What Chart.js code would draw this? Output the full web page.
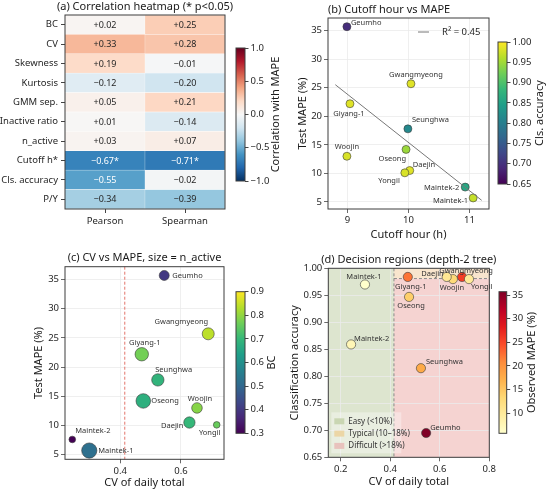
<!DOCTYPE html>
<html lang="en">
<head>
<meta charset="UTF-8">
<title>MAPE drivers</title>
<script src="https://cdn.jsdelivr.net/npm/chart.js"></script>
<style>
  html, body { margin: 0; padding: 0; background: #fff; }
  #wrap { position: relative; width: 550px; height: 493px; overflow: hidden; }
  #wrap canvas { position: absolute; }
</style>
</head>
<body>
<div id="wrap">
  <canvas id="heat" width="235" height="245" style="left:0;top:0"></canvas>
  <canvas id="cbA" width="60" height="245" style="left:228px;top:0"></canvas>
  <canvas id="cutoff" width="225" height="245" style="left:275px;top:0"></canvas>
  <canvas id="cbB" width="60" height="245" style="left:490px;top:0"></canvas>
  <canvas id="cvMape" width="235" height="248" style="left:0;top:245px"></canvas>
  <canvas id="cbC" width="60" height="248" style="left:228px;top:245px"></canvas>
  <canvas id="regions" width="225" height="248" style="left:275px;top:245px"></canvas>
  <canvas id="cbD" width="60" height="248" style="left:490px;top:245px"></canvas>
</div>

<script>
// --- data ---
const corrFeatures = ['BC', 'CV', 'Skewness', 'Kurtosis', 'GMM sep.', 'Inactive ratio', 'n_active', 'Cutoff h*', 'Cls. accuracy', 'P/Y'];
const corrMethods = ['Pearson', 'Spearman'];
const pearsonR = [0.02, 0.33, 0.19, -0.12, 0.05, 0.01, 0.03, -0.67, -0.55, -0.34];
const spearmanR = [0.25, 0.28, -0.01, -0.20, 0.21, -0.14, 0.07, -0.71, -0.02, -0.39];
const pearsonSig = [0, 0, 0, 0, 0, 0, 0, 1, 0, 0];
const spearmanSig = [0, 0, 0, 0, 0, 0, 0, 1, 0, 0];

const sites = ['Geumho', 'Gwangmyeong', 'Giyang-1', 'Seunghwa', 'Woojin', 'Oseong', 'Daejin', 'Yongil', 'Maintek-2', 'Maintek-1'];
const testMape = [35.7, 25.7, 22.2, 17.8, 13.0, 14.2, 10.5, 10.1, 7.6, 5.7];
const cutoffHour = [9, 10, 9, 10, 9, 10, 10, 10, 11, 11];
const cutoffJitter = [-0.01, 0.04, 0.04, -0.01, -0.01, -0.04, 0.02, -0.06, -0.07, 0.06];
const clsAccuracy = [0.695, 0.984, 0.984, 0.815, 0.980, 0.947, 0.984, 0.980, 0.859, 0.970];
const cvDaily = [0.545, 0.690, 0.471, 0.524, 0.653, 0.476, 0.628, 0.718, 0.242, 0.298];
const bimodality = [0.40, 0.84, 0.77, 0.69, 0.79, 0.68, 0.70, 0.76, 0.30, 0.52];
const nActive = [25, 36, 45, 38, 28, 53, 32, 11, 11, 58];

// depth-2 tree splits
const cvSplit = 0.415;
const accSplit = 0.981;
const regionNames = ['Easy (<10%)', 'Typical (10\u201318%)', 'Difficult (>18%)'];

// tick labels
const mapeTicks = [5, 10, 15, 20, 25, 30, 35];
const cutoffTicks = [9, 10, 11];
const cvTicksC = [0.4, 0.6];
const cvTicksD = [0.2, 0.4, 0.6, 0.8];
const accTicks = [0.65, 0.70, 0.75, 0.80, 0.85, 0.90, 0.95, 1.00];
const corrCbTicks = [-1, -0.5, 0, 0.5, 1];
const accCbTicks = [0.65, 0.70, 0.75, 0.80, 0.85, 0.90, 0.95, 1.00];
const bcCbTicks = [0.3, 0.4, 0.5, 0.6, 0.7, 0.8, 0.9];
const mapeCbTicks = [10, 15, 20, 25, 30, 35];

// --- colour maps ---
const RDBU_R = ['#053061', '#2166ac', '#4393c3', '#92c5de', '#d1e5f0', '#f7f7f7', '#fddbc7', '#f4a582', '#d6604d', '#b2182b', '#67001f'];
const VIRIDIS = ['#440154', '#482878', '#3e4989', '#31688e', '#26828e', '#1f9e89', '#35b779', '#6ece58', '#b5de2b', '#fde725'];
const YLORRD = ['#ffffcc', '#ffeda0', '#fed976', '#feb24c', '#fd8d3c', '#fc4e2a', '#e31a1c', '#bd0026', '#800026'];

function hexRgb(h) { return [1, 3, 5].map(i => parseInt(h.substr(i, 2), 16)); }
function cmap(stops, v, lo, hi) {
  let t = Math.min(1, Math.max(0, (v - lo) / (hi - lo)));
  const n = stops.length - 1;
  const i = Math.min(Math.floor(t * n), n - 1);
  const f = t * n - i;
  const a = hexRgb(stops[i]), b = hexRgb(stops[i + 1]);
  return 'rgb(' + a.map((c, k) => Math.round(c + (b[k] - c) * f)).join(',') + ')';
}

const FONT = '"Noto Sans", "DejaVu Sans", sans-serif';
const tickFont = { family: FONT, size: 9.5 };
const titleFont = { family: FONT, size: 11 };
const TXT = '#262626';
const GRID = '#ebebeb';
const minus = v => (v < 0 ? '\u2212' : '') + Math.abs(v);

// --- small plugins ---
const framePlugin = {
  id: 'frame',
  afterDatasetsDraw(chart) {
    const { ctx, chartArea: a } = chart;
    ctx.save();
    ctx.strokeStyle = '#3d3d3d';
    ctx.lineWidth = 1;
    ctx.strokeRect(a.left, a.top, a.right - a.left, a.bottom - a.top);
    ctx.restore();
  }
};

function titlePlugin(text, align) {
  return {
    id: 'panelTitle',
    afterDraw(chart) {
      const { ctx, chartArea: a } = chart;
      ctx.save();
      ctx.font = '11px ' + FONT;
      ctx.fillStyle = '#1a1a1a';
      ctx.textBaseline = 'bottom';
      ctx.textAlign = align;
      ctx.fillText(text, align === 'left' ? a.left : (a.left + a.right) / 2, a.top - 3);
      ctx.restore();
    }
  };
}

function labelPlugin(offsets) {
  return {
    id: 'siteLabels',
    afterDatasetsDraw(chart) {
      const { ctx } = chart;
      const meta = chart.getDatasetMeta(chart.data.datasets.length - 1);
      ctx.save();
      ctx.font = '7.5px ' + FONT;
      ctx.fillStyle = '#333';
      ctx.textBaseline = 'middle';
      meta.data.forEach((el, i) => {
        const o = offsets[i];
        ctx.textAlign = o[2];
        ctx.fillText(sites[i], el.x + o[0], el.y + o[1]);
      });
      ctx.restore();
    }
  };
}

function fixedTicks(vals) {
  return s => { s.ticks = vals.map(v => ({ value: v })); };
}

function axis(opts) {
  return {
    type: 'linear',
    min: opts.min,
    max: opts.max,
    afterBuildTicks: fixedTicks(opts.ticks),
    afterFit: s => { if (opts.w) s.width = opts.w; if (opts.h) s.height = opts.h; },
    grid: { color: GRID, tickColor: '#444', tickLength: 4, lineWidth: 0.8 },
    border: { display: false },
    ticks: { font: tickFont, color: TXT, padding: 2, maxRotation: 0, autoSkip: false, callback: opts.fmt },
    title: { display: true, text: opts.title, font: titleFont, color: '#1a1a1a', padding: 0 }
  };
}

const baseOpts = {
  responsive: false,
  animation: false,
  events: [],
  plugins: { legend: { display: false }, tooltip: { enabled: false } }
};

// --- (a) heatmap ---
function cellText(v, sig) {
  return (v >= 0 ? '+' : '\u2212') + Math.abs(v).toFixed(2) + (sig ? '*' : '');
}
const heatText = {
  id: 'heatText',
  afterDatasetsDraw(chart) {
    const { ctx } = chart;
    const vals = [pearsonR, spearmanR], sigs = [pearsonSig, spearmanSig];
    ctx.save();
    ctx.font = '9px ' + FONT;
    ctx.textAlign = 'center';
    ctx.textBaseline = 'middle';
    vals.forEach((arr, d) => {
      chart.getDatasetMeta(d).data.forEach((el, i) => {
        ctx.fillStyle = Math.abs(arr[i]) >= 0.5 ? '#fff' : TXT;
        ctx.fillText(cellText(arr[i], sigs[d][i]), (el.x + el.base) / 2, el.y + 0.5);
      });
    });
    ctx.restore();
  }
};

new Chart(document.getElementById('heat'), {
  type: 'bar',
  data: {
    labels: corrFeatures,
    datasets: [pearsonR, spearmanR].map((arr, d) => ({
      label: corrMethods[d],
      data: arr.map(() => 1),
      backgroundColor: arr.map(v => cmap(RDBU_R, v, -1, 1)),
      borderColor: '#fff',
      borderWidth: 0.5,
      barPercentage: 1,
      categoryPercentage: 1
    }))
  },
  options: {
    ...baseOpts,
    indexAxis: 'y',
    layout: { padding: { left: 0, top: 15, right: 10, bottom: 0 } },
    scales: {
      x: {
        type: 'linear', min: 0, max: 2, stacked: true,
        afterBuildTicks: fixedTicks([0.5, 1.5]),
        afterFit: s => { s.height = 36; },
        grid: { drawOnChartArea: false, tickColor: '#444', tickLength: 4 },
        border: { display: false },
        ticks: { font: tickFont, color: TXT, padding: 3, callback: v => corrMethods[Math.floor(v)] }
      },
      y: {
        stacked: true,
        afterFit: s => { s.width = 65; },
        grid: { drawOnChartArea: false, offset: false, tickColor: '#444', tickLength: 4 },
        border: { display: false },
        ticks: { font: tickFont, color: TXT, padding: 3 }
      }
    }
  },
  plugins: [heatText, framePlugin, titlePlugin('(a) Correlation heatmap (* p<0.05)', 'center')]
});

// --- colourbars ---
function colorbar(id, stops, lo, hi, ticks, fmt, label, labelX, pad) {
  const cbLabel = {
    id: 'cbLabel',
    afterDraw(chart) {
      const { ctx, chartArea: a } = chart;
      ctx.save();
      ctx.translate(labelX, (a.top + a.bottom) / 2);
      ctx.rotate(-Math.PI / 2);
      ctx.font = '11px ' + FONT;
      ctx.fillStyle = '#1a1a1a';
      ctx.textAlign = 'center';
      ctx.textBaseline = 'middle';
      ctx.fillText(label, 0, 0);
      ctx.restore();
    }
  };
  new Chart(document.getElementById(id), {
    type: 'bar',
    data: {
      labels: [label],
      datasets: [{
        data: [[lo, hi]],
        barPercentage: 1,
        categoryPercentage: 1,
        backgroundColor: c => {
          const a = c.chart.chartArea;
          if (!a) return stops[0];
          const g = c.chart.ctx.createLinearGradient(0, a.bottom, 0, a.top);
          stops.forEach((s, i) => g.addColorStop(i / (stops.length - 1), s));
          return g;
        }
      }]
    },
    options: {
      ...baseOpts,
      layout: { padding: pad },
      scales: {
        x: { display: false },
        y: {
          position: 'right', min: lo, max: hi,
          afterBuildTicks: fixedTicks(ticks),
          afterFit: s => { s.width = pad.w; },
          grid: { drawOnChartArea: false, tickColor: '#444', tickLength: 3.5 },
          border: { display: false },
          ticks: { font: tickFont, color: TXT, padding: 2, callback: fmt }
        }
      }
    },
    plugins: [framePlugin, cbLabel]
  });
}

colorbar('cbA', RDBU_R, -1, 1, corrCbTicks, v => minus(Math.abs(v) < 1e-9 ? 0 : v).replace(/^(\u2212?)(\d+)$/, '$1$2.0').replace(/^(\u2212?\d+\.\d)$/, '$1'),
  'Correlation with MAPE', 48, { left: 8, top: 48, bottom: 64, right: 0, w: 43 });
colorbar('cbB', VIRIDIS, 0.65, 1.0, accCbTicks, v => v.toFixed(2),
  'Cls. accuracy', 50, { left: 8, top: 42, bottom: 61, right: 0, w: 43 });
colorbar('cbC', VIRIDIS, 0.3, 0.9, bcCbTicks, v => v.toFixed(1),
  'BC', 44, { left: 8, top: 46.7, bottom: 59.7, right: 0, w: 43 });
colorbar('cbD', YLORRD, Math.min(...testMape), Math.max(...testMape), mapeCbTicks, v => String(v),
  'Observed MAPE (%)', 42, { left: 9, top: 46.7, bottom: 59.7, right: 0, w: 43.3 });

// --- (b) cutoff hour vs MAPE ---
const n = sites.length;
const mx = cutoffHour.reduce((s, v) => s + v, 0) / n;
const my = testMape.reduce((s, v) => s + v, 0) / n;
let sxy = 0, sxx = 0, syy = 0;
for (let i = 0; i < n; i++) {
  sxy += (cutoffHour[i] - mx) * (testMape[i] - my);
  sxx += (cutoffHour[i] - mx) ** 2;
  syy += (testMape[i] - my) ** 2;
}
const slope = sxy / sxx;
const r2 = sxy * sxy / (sxx * syy);
const trendSpan = [8.8, 11.2];

const r2Legend = {
  id: 'r2Legend',
  afterDraw(chart) {
    const { ctx, chartArea: a } = chart;
    ctx.save();
    ctx.strokeStyle = '#777';
    ctx.lineWidth = 1;
    ctx.beginPath();
    ctx.moveTo(a.right - 71, a.top + 14);
    ctx.lineTo(a.right - 60, a.top + 14);
    ctx.stroke();
    ctx.font = '9.5px ' + FONT;
    ctx.fillStyle = TXT;
    ctx.textBaseline = 'middle';
    ctx.fillText('R\u00b2 = ' + r2.toFixed(2), a.right - 47, a.top + 14);
    ctx.restore();
  }
};

new Chart(document.getElementById('cutoff'), {
  type: 'scatter',
  data: {
    datasets: [{
      type: 'line',
      data: trendSpan.map(x => ({ x, y: my + slope * (x - mx) })),
      borderColor: '#777',
      borderWidth: 1,
      pointRadius: 0
    }, {
      data: sites.map((s, i) => ({ x: cutoffHour[i] + cutoffJitter[i], y: testMape[i] })),
      pointRadius: 4,
      pointBackgroundColor: clsAccuracy.map(v => cmap(VIRIDIS, v, 0.65, 1.0)),
      pointBorderColor: '#3a3a3a',
      pointBorderWidth: 0.6
    }]
  },
  options: {
    ...baseOpts,
    layout: { padding: { left: 21.7, top: 18, right: 11, bottom: 3.7 } },
    scales: {
      x: axis({ min: 8.68, max: 11.32, ticks: cutoffTicks, h: 32.3, title: 'Cutoff hour (h)', fmt: v => String(v) }),
      y: axis({ min: 3.76, max: 37.22, ticks: mapeTicks, w: 31.3, title: 'Test MAPE (%)', fmt: v => String(v) })
    }
  },
  plugins: [framePlugin, r2Legend, titlePlugin('(b) Cutoff hour vs MAPE', 'left'),
    labelPlugin([[4, -4, 'left'], [5, -8.5, 'center'], [-1, 10, 'center'], [4, -8.7, 'left'], [0, -9, 'center'],
      [0, 9.3, 'right'], [3, -6, 'left'], [-5, 8, 'right'], [-6, 1, 'right'], [-5, 3, 'right']])]
});

// --- (c) CV vs MAPE ---
const cvLine = {
  id: 'cvLine',
  beforeDatasetsDraw(chart) {
    const { ctx, chartArea: a, scales } = chart;
    const x = scales.x.getPixelForValue(cvSplit);
    ctx.save();
    ctx.strokeStyle = '#e3746b';
    ctx.lineWidth = 1;
    ctx.setLineDash([3, 2]);
    ctx.beginPath();
    ctx.moveTo(x, a.top);
    ctx.lineTo(x, a.bottom);
    ctx.stroke();
    ctx.restore();
  }
};

new Chart(document.getElementById('cvMape'), {
  type: 'bubble',
  data: {
    datasets: [{
      data: sites.map((s, i) => ({ x: cvDaily[i], y: testMape[i], r: Math.sqrt(nActive[i]) })),
      backgroundColor: bimodality.map(v => cmap(VIRIDIS, v, 0.3, 0.9)),
      borderColor: '#3a3a3a',
      borderWidth: 0.6
    }]
  },
  options: {
    ...baseOpts,
    layout: { padding: { left: 32, top: 21.7, right: 11, bottom: 3.4 } },
    scales: {
      x: axis({ min: 0.218, max: 0.742, ticks: cvTicksC, h: 30.3, title: 'CV of daily total', fmt: v => v.toFixed(1) }),
      y: axis({ min: 4.2, max: 37.2, ticks: mapeTicks, w: 33, title: 'Test MAPE (%)', fmt: v => String(v) })
    }
  },
  plugins: [cvLine, framePlugin, titlePlugin('(c) CV vs MAPE, size = n_active', 'center'),
    labelPlugin([[8, 0, 'left'], [0, -12, 'right'], [3, -11, 'center'], [-2.6, -10, 'left'], [3, -9, 'center'],
      [8, 0, 'left'], [-6, 3, 'right'], [-7, 8, 'center'], [3, -9, 'left'], [9, 0, 'left']])]
});

// --- (d) decision regions ---
const regionFill = ['#dde5cf', '#f8e5cd', '#f5d3d1'];
const regionPatch = ['#c9d6b2', '#ecd6a6', '#e8c2bd'];
const regions = {
  id: 'regions',
  beforeDraw(chart) {
    const { ctx, chartArea: a, scales } = chart;
    const xs = scales.x.getPixelForValue(cvSplit);
    const ys = scales.y.getPixelForValue(accSplit);
    ctx.save();
    ctx.fillStyle = regionFill[0];
    ctx.fillRect(a.left, a.top, xs - a.left, a.bottom - a.top);
    ctx.fillStyle = regionFill[2];
    ctx.fillRect(xs, ys, a.right - xs, a.bottom - ys);
    ctx.fillStyle = regionFill[1];
    ctx.fillRect(xs, a.top, a.right - xs, ys - a.top);
    ctx.restore();
  },
  beforeDatasetsDraw(chart) {
    const { ctx, chartArea: a, scales } = chart;
    const xs = scales.x.getPixelForValue(cvSplit);
    const ys = scales.y.getPixelForValue(accSplit);
    ctx.save();
    ctx.strokeStyle = '#8a8a8a';
    ctx.lineWidth = 1;
    ctx.setLineDash([3, 2]);
    ctx.beginPath();
    ctx.moveTo(xs, a.top); ctx.lineTo(xs, a.bottom);
    ctx.moveTo(xs, ys); ctx.lineTo(a.right, ys);
    ctx.stroke();
    // legend
    const lx = a.left + 3, ly = a.bottom - 45;
    ctx.setLineDash([]);
    ctx.fillStyle = 'rgba(255,255,255,0.35)';
    ctx.fillRect(lx, ly, 70, 41);
    ctx.font = '8px ' + FONT;
    ctx.textBaseline = 'middle';
    regionNames.forEach((name, i) => {
      const y = ly + 9 + i * 12.3;
      ctx.fillStyle = regionPatch[i];
      ctx.fillRect(lx + 3, y - 3, 10, 6);
      ctx.fillStyle = '#333';
      ctx.fillText(name, lx + 17, y);
    });
    ctx.restore();
  }
};

new Chart(document.getElementById('regions'), {
  type: 'scatter',
  data: {
    datasets: [{
      data: sites.map((s, i) => ({ x: cvDaily[i], y: clsAccuracy[i] })),
      pointRadius: 4.6,
      pointBackgroundColor: testMape.map(v => cmap(YLORRD, v, Math.min(...testMape), Math.max(...testMape))),
      pointBorderColor: '#3a3a3a',
      pointBorderWidth: 0.6
    }]
  },
  options: {
    ...baseOpts,
    layout: { padding: { left: 13.7, top: 23.3, right: 10.7, bottom: 4.4 } },
    scales: {
      x: axis({ min: 0.15, max: 0.8, ticks: cvTicksD, h: 31.3, title: 'CV of daily total', fmt: v => v.toFixed(1) }),
      y: axis({ min: 0.65, max: 1.0, ticks: accTicks, w: 39.6, title: 'Classification accuracy', fmt: v => v.toFixed(2) })
    }
  },
  plugins: [regions, framePlugin, titlePlugin('(d) Decision regions (depth-2 tree)', 'center'),
    labelPlugin([[4, -5, 'left'], [4, -6, 'center'], [3, 9.5, 'center'], [5, -6, 'left'], [-1, 9, 'center'],
      [2, 9, 'center'], [-3, -3, 'right'], [2, 8, 'left'], [3, -6, 'left'], [-1, -8, 'center']])]
});
</script>
</body>
</html>
